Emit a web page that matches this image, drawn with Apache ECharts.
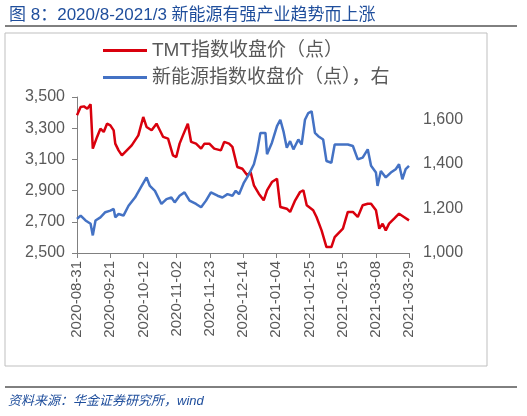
<!DOCTYPE html><html><head><meta charset="utf-8"><script src="https://cdn.jsdelivr.net/npm/echarts@6/dist/echarts.min.js"></script></head><body style="margin:0"><div id="c" style="width:527px;height:416px"></div><script>
const startDate='2020-08-31';
const tmtDays=[0,2.3,4.4,6.5,8.6,10,12.7,14.8,16.9,19,21.1,23.2,24.2,26.3,28.4,31.5,34.6,38.8,41.9,44,47.2,50.3,52.4,54.5,57.6,60.7,62.8,64.9,67,70.1,72.2,75.3,78.5,80.6,83.7,86.8,91,93.1,96.2,98.3,101.4,104.6,107.7,109.8,111.9,115,118.1,120.2,123.3,126.5,128.6,132.7,134.8,138,141.1,143.2,145.3,149.4,151.5,154.7,157.8,160.9,163,168.2,171.3,174.5,177.6,180.7,183.9,186,189.1,191.2,193.3,195.3,197.4,200.6,203.7,206.8,210];
const tmtVals=[3383,3436,3440,3425,3453,3169,3244,3297,3276,3329,3318,3286,3201,3158,3126,3158,3190,3254,3372,3308,3287,3329,3287,3244,3233,3126,3115,3201,3254,3329,3212,3201,3169,3201,3201,3169,3158,3212,3201,3180,3051,3040,2998,3019,2934,2880,2838,2902,2955,2976,2795,2784,2763,2838,2891,2902,2806,2774,2731,2645,2538,2538,2602,2656,2763,2763,2731,2806,2816,2816,2774,2656,2688,2645,2688,2720,2752,2731,2709];
const neDays=[0,2.3,5.4,8.6,10,11.7,14.8,17.9,21.1,23.2,24.2,26.3,29.4,32.6,36.7,40.9,44,46.1,49.3,53.4,56.6,59.7,61.8,64.9,68,71.2,75.3,78.5,81.6,84.7,88.9,92,95.2,98.3,100.4,102.5,105.6,108.7,111.9,114,116,119.2,120.2,123.3,126.5,128.6,130.6,132.7,134.8,136.9,140,142.1,144.2,146.3,148.4,150.5,152.6,155.7,157.8,160.9,163,167.2,171.3,174.5,177.6,180.7,183.9,186,189.1,190.1,192.2,195.3,198.5,201.6,203.7,205.8,207.9,210];
const neVals=[1153,1168,1146,1131,1079,1146,1160,1183,1190,1198,1160,1175,1168,1212,1249,1301,1339,1301,1279,1220,1242,1249,1227,1257,1272,1235,1220,1205,1235,1272,1257,1249,1264,1257,1279,1264,1316,1353,1398,1457,1539,1539,1443,1495,1569,1598,1546,1472,1502,1465,1509,1487,1598,1628,1636,1539,1524,1509,1413,1405,1487,1487,1487,1480,1420,1428,1465,1391,1361,1301,1368,1339,1361,1376,1398,1331,1376,1391];
const fmt=v=>{const d=new Date(Date.parse(startDate+'T00:00:00Z')+v*86400000);return d.toISOString().slice(0,10);};
const ch=echarts.init(document.getElementById('c'));
const lab={color:'#595959',fontSize:15,fontFamily:'Liberation Sans'};
ch.setOption({animation:false,
title:{text:'图 8：2020/8-2021/3 新能源有强产业趋势而上涨',left:4,top:2,textStyle:{color:'#1f4e9c',fontSize:17,fontWeight:'normal',fontFamily:'Liberation Sans, Noto Sans CJK SC'}},
graphic:[
{type:'line',shape:{x1:5,y1:26,x2:517,y2:26},style:{stroke:'#000',lineWidth:1}},
{type:'rect',shape:{x:5,y:33,width:482,height:333},style:{fill:'none',stroke:'#bfbfbf',lineWidth:1}},
{type:'line',shape:{x1:5,y1:387,x2:517,y2:387},style:{stroke:'#000',lineWidth:1}},
{type:'text',left:8,top:395,style:{text:'资料来源：华金证券研究所，wind',fill:'#1f4e9c',fontSize:13,fontStyle:'italic',fontFamily:'Liberation Sans, Noto Sans CJK SC'}}],
legend:{orient:'vertical',left:98,top:36,itemGap:8,itemWidth:44,itemHeight:3,icon:'rect',textStyle:{color:'#595959',fontSize:19,fontFamily:'Liberation Sans, Noto Sans CJK SC'},data:['TMT指数收盘价（点）','新能源指数收盘价（点），右']},
grid:{left:77,right:118,top:97,bottom:163},
xAxis:{type:'value',min:0,max:210,interval:21,axisLine:{lineStyle:{color:'#808080'}},axisTick:{show:true,length:5,lineStyle:{color:'#808080'}},splitLine:{show:false},axisLabel:{...lab,rotate:90,formatter:fmt,margin:8}},
yAxis:[{type:'value',min:2500,max:3500,interval:200,splitLine:{show:false},axisLine:{show:true,lineStyle:{color:'#808080'}},axisTick:{show:true,inside:false,length:5,lineStyle:{color:'#808080'}},axisLabel:{...lab,fontSize:16,formatter:v=>v.toLocaleString('en-US'),margin:12}},
{type:'value',min:1000,max:1700,interval:200,splitLine:{show:false},axisLine:{show:false},axisTick:{show:false},axisLabel:{...lab,fontSize:16,showMaxLabel:false,formatter:v=>v.toLocaleString('en-US'),margin:14}}],
series:[
{name:'TMT指数收盘价（点）',type:'line',symbol:'none',data:tmtDays.map((d,i)=>[d,tmtVals[i]]),lineStyle:{color:'#d9000d',width:2.5},itemStyle:{color:'#d9000d'}},
{name:'新能源指数收盘价（点），右',type:'line',yAxisIndex:1,symbol:'none',data:neDays.map((d,i)=>[d,neVals[i]]),lineStyle:{color:'#4472c4',width:2.5},itemStyle:{color:'#4472c4'}}]
});
</script></body></html>
